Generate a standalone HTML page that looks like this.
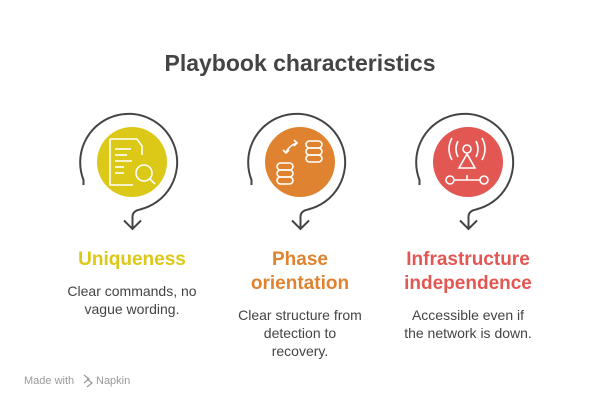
<!DOCTYPE html>
<html><head><style>
body{margin:0;background:#fff;}
svg{display:block;font-family:"Liberation Sans",sans-serif;}
</style></head><body>
<svg width="600" height="408" viewBox="0 0 600 408">
<text x="300" y="71" text-anchor="middle" font-size="23" font-weight="bold" fill="#444">Playbook characteristics</text>
<g fill="none" stroke="#444" stroke-width="2">
<path d="M83.5 185 L83.5 180 A48.5 48.5 0 1 1 140 209.5 Q132.5 211 132.5 217 L132.5 229"/>
<polyline points="124,220.5 132.5,229 141,220.5"/>
<path d="M251.5 185 L251.5 180 A48.5 48.5 0 1 1 308 209.5 Q300.5 211 300.5 217 L300.5 229"/>
<polyline points="292,220.5 300.5,229 309,220.5"/>
<path d="M419.5 185 L419.5 180 A48.5 48.5 0 1 1 476 209.5 Q468.5 211 468.5 217 L468.5 229"/>
<polyline points="460,220.5 468.5,229 477,220.5"/>
</g>
<circle cx="132" cy="162" r="35" fill="#DCC817"/>
<circle cx="300" cy="162" r="35" fill="#DF8330"/>
<circle cx="468" cy="162" r="35" fill="#E35753"/>
<g fill="none" stroke="#fff" stroke-width="1.6">
<path d="M110 139 H137 L142 146 V155 M110 139 V185 H133"/>
<line x1="115" y1="149" x2="131" y2="149"/><line x1="115" y1="155" x2="127" y2="155"/>
<line x1="115" y1="161" x2="132" y2="161"/><line x1="115" y1="167" x2="124" y2="167"/>
<line x1="115" y1="173" x2="124" y2="173"/>
<circle cx="144" cy="173" r="8"/><line x1="150" y1="179" x2="155" y2="184"/>
<rect x="277" y="163" width="16" height="7" rx="3.5"/><rect x="277" y="170" width="16" height="7" rx="3.5"/><rect x="277" y="177" width="16" height="7" rx="3.5"/>
<rect x="306" y="141" width="16" height="7" rx="3.5"/><rect x="306" y="148" width="16" height="7" rx="3.5"/><rect x="306" y="155" width="16" height="7" rx="3.5"/>
<path d="M286 152 Q290 145 297 143"/><polyline points="294,140 297,143 294,146"/>
<polyline points="283,150 286,153 289,150"/>
<circle cx="467" cy="149" r="4"/>
<path d="M467 154 L459 168 H475 Z"/>
<path d="M458 141 Q454 149 458 157 M476 141 Q480 149 476 157 M452 138 Q446 149 452 160 M482 138 Q488 149 482 160"/>
<circle cx="450" cy="180" r="4"/><circle cx="484" cy="180" r="4"/>
<line x1="454" y1="180" x2="480" y2="180"/><line x1="467" y1="175" x2="467" y2="180"/>
</g>
<g font-weight="bold" font-size="19" text-anchor="middle">
<text x="132" y="265" fill="#DCC817">Uniqueness</text>
<text x="300" y="265" fill="#DF8330">Phase</text>
<text x="300" y="289" fill="#DF8330">orientation</text>
<text x="468" y="265" fill="#E35753">Infrastructure</text>
<text x="468" y="289" fill="#E35753">independence</text>
</g>
<g font-size="14" fill="#444" text-anchor="middle">
<text x="132" y="296">Clear commands, no</text>
<text x="132" y="314">vague wording.</text>
<text x="300" y="320">Clear structure from</text>
<text x="300" y="338">detection to</text>
<text x="300" y="356">recovery.</text>
<text x="468" y="320">Accessible even if</text>
<text x="468" y="338">the network is down.</text>
</g>
<text x="24" y="384" font-size="11" fill="#999">Made with</text>
<path d="M84 375 l5 4 l-5 4 M87 379 l5 4 l-5 4" stroke="#999" fill="none" stroke-width="1.2"/>
<text x="96" y="384" font-size="11" fill="#999">Napkin</text>
</svg>
</body></html>
